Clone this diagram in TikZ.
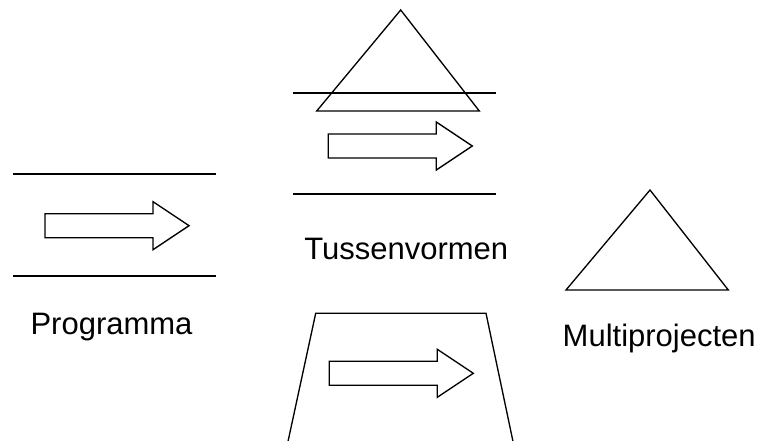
\documentclass[tikz,border=0pt]{standalone}
\usepackage{fontspec}
\setmainfont{Liberation Sans}
\usetikzlibrary{positioning}

\begin{document}
\begin{tikzpicture}[
  x=0.75pt, y=-0.75pt,
  rulebar/.style={line width=1.5pt},
  contour/.style={line width=1pt, line join=miter},
  title/.style={font=\fontsize{23.25}{28}\selectfont, inner sep=0pt, anchor=base},
  pics/blockarrow/.style={code={
    \draw[contour] (0,-12) -- (108,-12) -- (108,-24) -- (144,0) -- (108,24) -- (108,12) -- (0,12) -- cycle;
  }},
]
\useasboundingbox (0,0) rectangle (760,441);

% Programma: arrow between two bars
\draw[rulebar] (13,174.3) -- (216,174.3);
\draw[rulebar] (13,275.7) -- (216,275.7);
\pic at (45,225.7) {blockarrow};
\node[title] (prog) at (111.5,335) {Programma};

% Tussenvormen: triangle over the upper bar
\draw[contour] (316.7,111) -- (479.3,111) -- (400.7,10) -- cycle;
\draw[rulebar] (293,93.3) -- (496,93.3);
\pic at (328.3,146) {blockarrow};
\draw[rulebar] (293,194.3) -- (496,194.3);
\node[title] (tussen) at (406.3,260) {Tussenvormen};

% open trapezoid with arrow
\draw[contour] (288.1,441) -- (315.7,313.3) -- (486,313.3) -- (512.9,441);
\pic at (329.3,373.3) {blockarrow};

% Multiprojecten
\draw[contour] (566,290) -- (728.3,290) -- (650,190) -- cycle;
\node[title] (multi) at (659.2,346.7) {Multiprojecten};
\end{tikzpicture}
\end{document}
